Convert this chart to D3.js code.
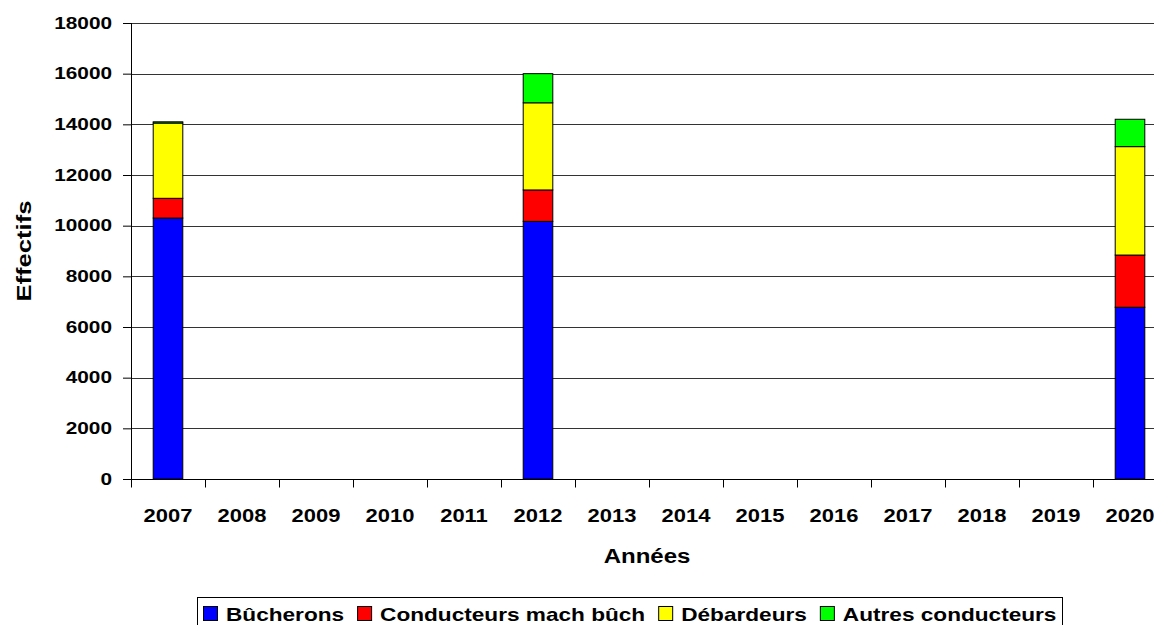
<!DOCTYPE html>
<html>
<head>
<meta charset="utf-8">
<script src="https://cdn.jsdelivr.net/npm/d3@7"></script>
<style>
  body { margin: 0; background: #fff; }
  text { font-family: "Liberation Sans", Arial, sans-serif; font-weight: bold; }
</style>
</head>
<body>
<div id="chart"></div>
<script>
var years = ["2007","2008","2009","2010","2011","2012","2013","2014","2015","2016","2017","2018","2019","2020"];
var seriesNames = ["Bûcherons", "Conducteurs mach bûch", "Débardeurs", "Autres conducteurs"];
var seriesColors = ["#0000ff", "#ff0000", "#ffff00", "#00ff00"];
// values only for years with data
var bucherons   = {"2007": 10300, "2012": 10170, "2020": 6780};
var conducteurs = {"2007": 780,   "2012": 1240,  "2020": 2060};
var debardeurs  = {"2007": 2970,  "2012": 3440,  "2020": 4280};
var autres      = {"2007": 50,    "2012": 1150,  "2020": 1080};
var yTicks = [0, 2000, 4000, 6000, 8000, 10000, 12000, 14000, 16000, 18000];

var width = 1154, height = 625;
var margin = {top: 23, left: 131, bottom: 146};
var plotW = 74 * 14;

// the reference font is a little wider than Liberation Sans
function stretch(sel, k) {
    sel.each(function() {
        var w = this.getComputedTextLength();
        d3.select(this)
            .attr("textLength", w * k)
            .attr("lengthAdjust", "spacingAndGlyphs");
    });
}

var svg = d3.select("#chart").append("svg")
    .attr("width", width)
    .attr("height", height);

var g = svg.append("g")
    .attr("transform", "translate(" + margin.left + "," + margin.top + ")");

var innerH = height - margin.top - margin.bottom;

var x = d3.scaleBand()
    .domain(years)
    .range([0, plotW]);

var y = d3.scaleLinear()
    .domain([0, 18000])
    .range([innerH, 0]);

// gridlines
g.selectAll(".grid")
    .data(yTicks.slice(1))
    .enter().append("line")
    .attr("class", "grid")
    .attr("x1", 0)
    .attr("x2", plotW)
    .attr("y1", function(d) { return Math.round(y(d)) + 0.5; })
    .attr("y2", function(d) { return Math.round(y(d)) + 0.5; })
    .style("stroke", "#333")
    .style("stroke-width", 1);

// stacked data
var rows = ["2007", "2012", "2020"].map(function(yr) {
    return {year: yr, s0: bucherons[yr], s1: conducteurs[yr], s2: debardeurs[yr], s3: autres[yr]};
});
var stack = d3.stack().keys(["s0", "s1", "s2", "s3"]);
var layers = stack(rows);

var barW = x.bandwidth() * 0.4;

g.selectAll(".layer")
    .data(layers)
    .enter().append("g")
    .attr("class", "layer")
    .style("fill", function(d, i) { return seriesColors[i]; })
    .selectAll("rect")
    .data(function(d) { return d; })
    .enter().append("rect")
    .attr("x", function(d) { return x(d.data.year) + (x.bandwidth() - barW) / 2; })
    .attr("width", barW)
    .attr("y", function(d) { return y(d[1]); })
    .attr("height", function(d) { return y(d[0]) - y(d[1]); })
    .style("stroke", "#000")
    .style("stroke-width", 1);

// y axis
var yAxis = d3.axisLeft(y).tickValues(yTicks).tickFormat(d3.format("d")).tickSize(8).tickPadding(11);
var ya = g.append("g").call(yAxis);
ya.select(".domain").attr("d", "M0.5," + (innerH + 0.5) + "V0").style("stroke", "#000");
ya.selectAll("line").style("stroke", "#000");
ya.selectAll("text")
    .style("font-size", "16.5px")
    .style("fill", "#000")
    .call(stretch, 1.26);

// x axis
var xAxis = d3.axisBottom(x).tickSize(0).tickPadding(30);
var xa = g.append("g")
    .attr("transform", "translate(0," + (Math.round(innerH) + 0.5) + ")")
    .call(xAxis);
xa.select(".domain").attr("d", "M0,0H" + plotW).style("stroke", "#000");
xa.selectAll("text")
    .style("font-size", "18px")
    .style("fill", "#000")
    .call(stretch, 1.22);

// x ticks between categories
xa.selectAll(".sep")
    .data(years)
    .enter().append("line")
    .attr("class", "sep")
    .attr("x1", function(d) { return Math.round(x(d)) + 0.5; })
    .attr("x2", function(d) { return Math.round(x(d)) + 0.5; })
    .attr("y1", 0)
    .attr("y2", 8)
    .style("stroke", "#000");

// axis titles
svg.append("text")
    .attr("x", 647)
    .attr("y", 563)
    .attr("text-anchor", "middle")
    .style("font-size", "20px")
    .text("Années")
    .call(stretch, 1.2);

svg.append("text")
    .attr("transform", "translate(31,251) rotate(-90)")
    .attr("text-anchor", "middle")
    .style("font-size", "20px")
    .text("Effectifs")
    .call(stretch, 1.28);

// legend
var legend = svg.append("g").attr("transform", "translate(197,597)");
legend.append("rect")
    .attr("x", 0.5).attr("y", 0.5)
    .attr("width", 865).attr("height", 40)
    .style("fill", "#fff")
    .style("stroke", "#000");

var lx = 6;
seriesNames.forEach(function(name, i) {
    var item = legend.append("g").attr("transform", "translate(" + lx + ",9)");
    item.append("rect")
        .attr("x", 0.5).attr("y", 0.5)
        .attr("width", 14).attr("height", 14)
        .style("fill", seriesColors[i])
        .style("stroke", "#000");
    var t = item.append("text")
        .attr("x", 23)
        .attr("y", 15)
        .style("font-size", "19px")
        .text(name)
        .call(stretch, 1.19);
    lx += 23 + (+t.attr("textLength")) + 13;
});
</script>
</body>
</html>
